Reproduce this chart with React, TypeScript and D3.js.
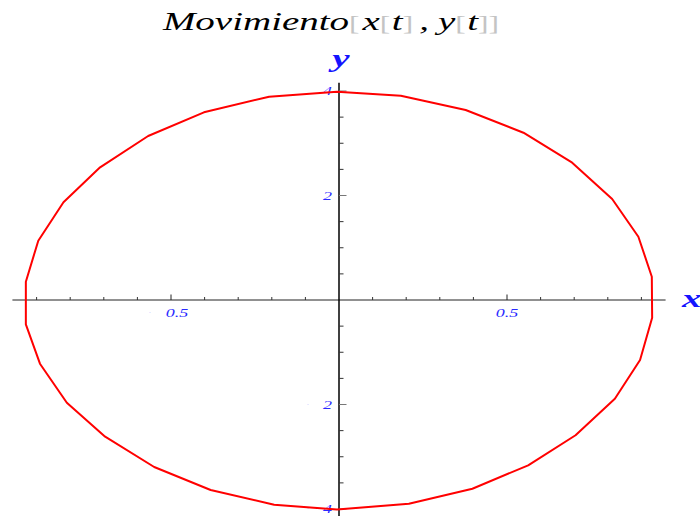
import React from "react";
import * as d3 from "d3";

// Sampled points of the closed path (x(t), y(t))
const curveX = [-0.006, 0.184, 0.377, 0.549, 0.694, 0.813, 0.891, 0.931, 0.932, 0.896, 0.821, 0.704, 0.563, 0.397, 0.208, -0.006, -0.193, -0.382, -0.55, -0.696, -0.81, -0.89, -0.932, -0.932, -0.895, -0.82, -0.711, -0.568, -0.402, -0.208];
const curveY = [3.985, 3.91, 3.636, 3.202, 2.628, 1.933, 1.211, 0.446, -0.339, -1.148, -1.889, -2.589, -3.164, -3.612, -3.899, -4.01, -3.918, -3.636, -3.196, -2.616, -1.966, -1.219, -0.465, 0.35, 1.135, 1.87, 2.539, 3.139, 3.592, 3.891];

const xMinorTicks = [-0.9, -0.8, -0.7, -0.6, -0.4, -0.3, -0.2, -0.1, 0.1, 0.2, 0.3, 0.4, 0.6, 0.7, 0.8, 0.9];
const xMajorTicks = [-0.5, 0.5];
const xTickLabels = ["0.5", "0.5"];
const yMinorTicks = [-3.5, -3, -2.5, -1.5, -1, -0.5, 0.5, 1, 1.5, 2.5, 3, 3.5];
const yMajorTicks = [-4, -2, 2, 4];
const yTickLabels = ["4", "2", "2", "4"];

const W = 700;
const H = 516;
const SX = 1.5; // horizontal stretch of glyphs

export default function App() {
  const x = d3.scaleLinear().domain([-1, 1]).range([3, 675]);
  const y = d3.scaleLinear().domain([-4, 4]).range([509, 91]);

  const pts: [number, number][] = curveX.map((v, i) => [v, curveY[i]]);
  const path = d3
    .line<[number, number]>()
    .x((d) => x(d[0]))
    .y((d) => y(d[1]))
    .curve(d3.curveLinearClosed)(pts) as string;

  const x0 = x(0);
  const y0 = y(0);
  const labelBlue = "#2a2aff";
  const serif = "'Liberation Serif', 'Times New Roman', serif";
  const bracket = { fill: "#c4c4c4", fontStyle: "normal", fontSize: 21 } as const;

  return (
    <svg
      width={W}
      height={H}
      style={{ position: "absolute", left: 0, top: 0, background: "#fff" }}
    >
      {/* title */}
      <text
        transform={`translate(331,30) scale(${SX},1)`}
        textAnchor="middle"
        fontFamily={serif}
        fontStyle="italic"
        fontSize={26}
        fill="#000"
      >
        <tspan>Movimiento</tspan>
        <tspan {...bracket}>[</tspan>
        <tspan dx={2}>x</tspan>
        <tspan {...bracket}>[</tspan>
        <tspan dx={1}>t</tspan>
        <tspan {...bracket}>]</tspan>
        <tspan dx={4}>,</tspan>
        <tspan dx={6}>y</tspan>
        <tspan {...bracket}>[</tspan>
        <tspan dx={1}>t</tspan>
        <tspan {...bracket}>]</tspan>
        <tspan {...bracket}>]</tspan>
      </text>

      {/* axes */}
      <line x1={x(-0.972)} x2={x(0.972)} y1={y0} y2={y0} stroke="#222" strokeWidth={1} />
      <line x1={x0} x2={x0} y1={y(4.16)} y2={y(-4.2)} stroke="#000" strokeWidth={1.5} />

      {/* x ticks */}
      {xMinorTicks.map((t) => (
        <line key={"xm" + t} x1={x(t)} x2={x(t)} y1={y0} y2={y0 - 3} stroke="#333" strokeWidth={1} />
      ))}
      {xMajorTicks.map((t) => (
        <line key={"xM" + t} x1={x(t)} x2={x(t)} y1={y0} y2={y0 - 5.5} stroke="#222" strokeWidth={1} />
      ))}
      {xMajorTicks.map((t, i) => (
        <g key={"xl" + t}>
          {t < 0 && (
            <text x={x(t) - 21} y={y0 + 14} fontSize={4} fill={labelBlue} opacity={0.6} textAnchor="middle">
              -
            </text>
          )}
          <text
            transform={`translate(${t < 0 ? x(t) + 6 : x(t)},${y0 + 17}) scale(${SX},1)`}
            textAnchor="middle"
            fontFamily={serif}
            fontStyle="italic"
            fontSize={12}
            fill={labelBlue}
          >
            {xTickLabels[i]}
          </text>
        </g>
      ))}

      {/* y ticks */}
      {yMinorTicks.map((t) => (
        <line key={"ym" + t} x1={x0} x2={x0 + 4.5} y1={y(t)} y2={y(t)} stroke="#333" strokeWidth={1} />
      ))}
      {yMajorTicks.map((t) => (
        <line key={"yM" + t} x1={x0} x2={x0 + 7.5} y1={y(t)} y2={y(t)} stroke="#777" strokeWidth={1} />
      ))}
      {yMajorTicks.map((t, i) => (
        <g key={"yl" + t}>
          {t < 0 && (
            <text x={x0 - 31} y={y(t) + 1} fontSize={4} fill={labelBlue} opacity={0.6} textAnchor="middle">
              -
            </text>
          )}
          <text
            transform={`translate(${x0 - 7},${y(t) + 4}) scale(${SX},1)`}
            textAnchor="end"
            fontFamily={serif}
            fontStyle="italic"
            fontSize={12}
            fill={labelBlue}
          >
            {yTickLabels[i]}
          </text>
        </g>
      ))}

      {/* curve */}
      <path d={path} fill="none" stroke="#ff0000" strokeWidth={2} strokeLinejoin="round" />

      {/* axis names */}
      <text
        transform={`translate(${x0 + 2},67) scale(${SX},1)`}
        textAnchor="middle"
        fontFamily={serif}
        fontStyle="italic"
        fontWeight="bold"
        fontSize={26}
        fill="#1414ff"
      >
        y
      </text>
      <text
        transform={`translate(682,307) scale(${SX},1)`}
        textAnchor="start"
        fontFamily={serif}
        fontStyle="italic"
        fontWeight="bold"
        fontSize={26}
        fill="#1414ff"
      >
        x
      </text>
    </svg>
  );
}
